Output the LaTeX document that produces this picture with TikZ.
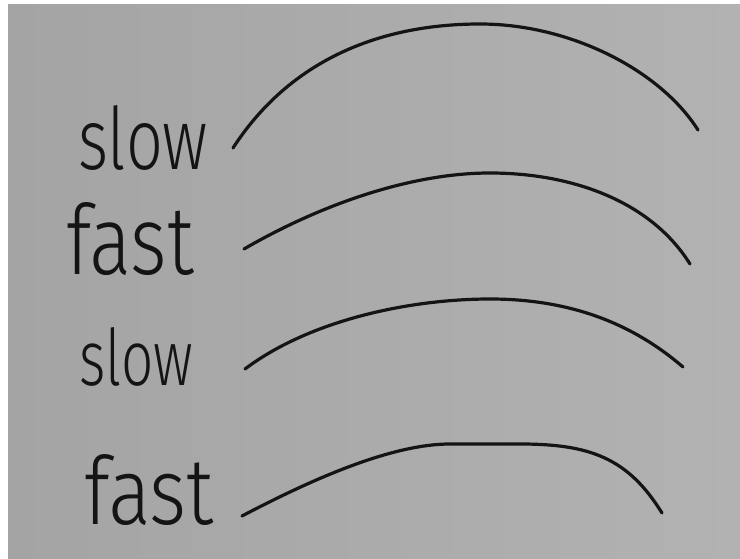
\documentclass[tikz,border=0pt]{standalone}
\usepackage{fontspec}
\usepackage{graphicx}
\newfontfamily\hand{Fira Sans}[UprightFont=* Light]
\definecolor{paperL}{RGB}{164,164,164}
\definecolor{paperR}{RGB}{178,178,178}
\definecolor{ink}{RGB}{20,20,20}
\tikzset{
  stroke/.style={draw=ink, line width=3.2pt, line cap=round, line join=round},
  word/.style={inner sep=0pt, outer sep=0pt, anchor=base west, text=ink, font=\hand}
}
\begin{document}
\begin{tikzpicture}[x=1pt, y=-1pt]
\useasboundingbox (0,0) rectangle (740,559);
\fill[white] (0,0) rectangle (740,559);
\shade[left color=paperL, right color=paperR] (8,5) rectangle (740,559);

% labels
\node[word] (w1) at (78,170) {\resizebox{130pt}{64pt}{slow}};
\node[word] (w2) at (66,274) {\resizebox{128pt}{72pt}{fast}};
\node[word] (w3) at (79,385) {\resizebox{114pt}{58pt}{slow}};
\node[word] (w4) at (84,524) {\resizebox{130pt}{70pt}{fast}};

% curves
\coordinate (a1) at (233,148); \coordinate (p1) at (480,24); \coordinate (b1) at (698,130);
\coordinate (a2) at (244,249); \coordinate (p2) at (490,173); \coordinate (b2) at (690,264);
\coordinate (a3) at (245,369); \coordinate (p3) at (490,299); \coordinate (b3) at (683,367);
\coordinate (a4) at (242,516); \coordinate (p4) at (450,444); \coordinate (q4) at (520,444); \coordinate (b4) at (662,513);

\draw[stroke] (a1) .. controls (290,60) and (380,24) .. (p1)
                   .. controls (570,24) and (660,70) .. (b1);
\draw[stroke] (a2) .. controls (320,205) and (410,173) .. (p2)
                   .. controls (570,173) and (650,200) .. (b2);
\draw[stroke] (a3) .. controls (310,320) and (410,299) .. (p3)
                   .. controls (580,299) and (640,330) .. (b3);
\draw[stroke] (a4) .. controls (320,475) and (395,444) .. (p4)
                   .. controls (475,444) and (495,444) .. (q4)
                   .. controls (590,444) and (628,458) .. (b4);
\end{tikzpicture}
\end{document}
